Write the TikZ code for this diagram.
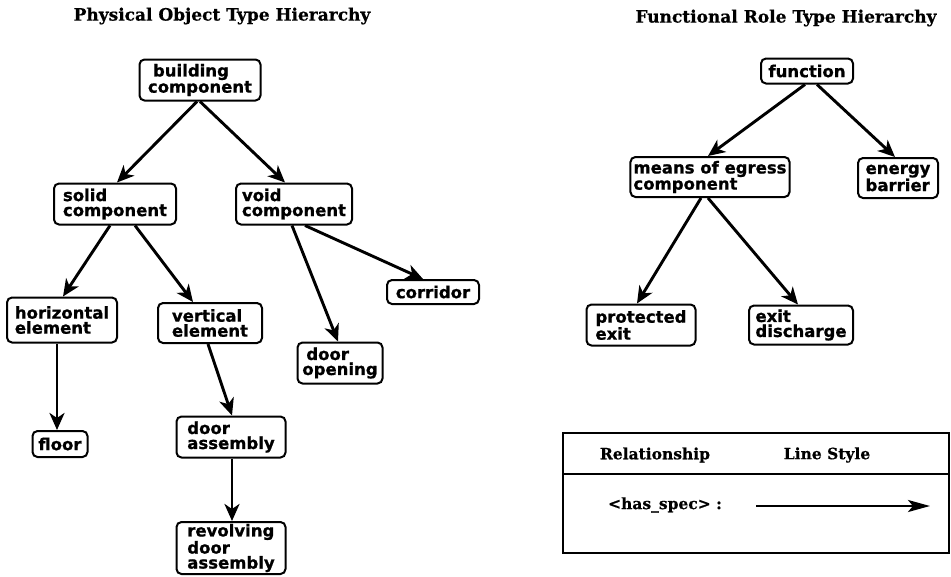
\documentclass[tikz,border=0pt]{standalone}
\usepackage{fontspec}
\setmainfont{DejaVu Serif}[BoldFeatures={FakeBold=0.6}]
\newfontfamily\boxfont{DejaVu Sans}[BoldFeatures={FakeBold=0.9}]
\usetikzlibrary{arrows.meta}
\tikzset{
  comp/.style={draw, line width=2pt, rounded corners=5pt, align=left, inner xsep=3pt, inner ysep=1pt,
    font=\boxfont\bfseries\fontsize{16.5}{15}\selectfont},
  spec/.style={line width=2.9pt, -{Stealth[length=17pt,width=15pt,inset=5pt]}},
  htitle/.style={font=\bfseries\fontsize{17}{19}\selectfont},
  legtext/.style={font=\bfseries\fontsize{15.5}{17}\selectfont}
}
\begin{document}
\begin{tikzpicture}[x=1pt,y=-1pt]
\useasboundingbox (0,0) rectangle (951,576);
% titles
\node[htitle] (t1) at (222,16) {Physical Object Type Hierarchy};
\node[htitle] (t2) at (786,18) {Functional Role Type Hierarchy};
% physical object hierarchy
\node[comp, minimum width=121, minimum height=41] (bc) at (200,80) {\hspace{5pt}building\\component};
\node[comp, minimum width=122, minimum height=41] (sc) at (115,204) {solid\\component};
\node[comp, minimum width=116, minimum height=41] (vc) at (294,204) {void\\component};
\node[comp, minimum width=110, minimum height=45] (he) at (62,320) {horizontal\\element};
\node[comp, minimum width=104, minimum height=40] (ve) at (210,323) {vertical\\element};
\node[comp, minimum width=92, minimum height=24] (co) at (433,292) {corridor};
\node[comp, minimum width=85, minimum height=41] (do) at (340,363) {\hspace{4pt}door\\opening};
\node[comp, minimum width=55, minimum height=26] (fl) at (60,444) {floor};
\node[comp, minimum width=109, minimum height=41] (da) at (231,437) {door\\assembly};
\node[comp, minimum width=109, minimum height=52] (rd) at (231,548) {revolving\\door\\assembly};
% functional role hierarchy
\node[comp, minimum width=92, minimum height=25] (fn) at (807,71) {function};
\node[comp, minimum width=152, minimum height=40] (me) at (710,177) {means of egress\\component};
\node[comp, minimum width=80, minimum height=40] (eb) at (898,178) {energy\\barrier};
\node[comp, minimum width=109, minimum height=41] (pe) at (641,325) {protected\\exit};
\node[comp, minimum width=104, minimum height=39] (ed) at (801,325) {exit\\discharge};
% connectors
\draw[spec] ([xshift=-3pt]bc.south) -- ([xshift=2pt]sc.north);
\draw[spec] (bc.south) -- ([xshift=-9pt]vc.north);
\draw[spec] ([xshift=-5pt]sc.south) -- ([xshift=1pt]he.north);
\draw[spec] ([xshift=20pt]sc.south) -- ([xshift=-17pt]ve.north);
\draw[spec] ([xshift=-2pt]vc.south) -- ([xshift=-2pt]do.north);
\draw[spec] ([xshift=11pt]vc.south) -- ([xshift=-10pt]co.north);
\draw[spec] ([xshift=-5pt]he.south) -- ([xshift=-3pt]fl.north);
\draw[spec] ([xshift=-2pt]ve.south) -- ([xshift=1pt]da.north);
\draw[spec] ([xshift=1pt]da.south) -- ([xshift=1pt]rd.north);
\draw[spec] ([xshift=-2pt]fn.south) -- ([xshift=-2pt]me.north);
\draw[spec] ([xshift=10pt]fn.south) -- ([xshift=-3pt]eb.north);
\draw[spec] ([xshift=-9pt]me.south) -- ([xshift=-4pt]pe.north);
\draw[spec] ([xshift=-2pt]me.south) -- ([xshift=-3pt]ed.north);
% legend
\draw[line width=1.8pt] (563,433) rectangle (949,553);
\draw[line width=1.8pt] (563,474) -- (949,474);
\node[legtext] (lr) at (655,455) {Relationship};
\node[legtext] (ls) at (827,455) {Line Style};
\node[legtext] (lh) at (665,505) {<has\_spec> :};
\coordinate (la) at (756,506);
\coordinate (lb) at (930,506);
\draw[line width=2.6pt, -{Stealth[length=22pt,width=12pt,inset=5pt]}] (la) -- (lb);
\end{tikzpicture}
\end{document}
